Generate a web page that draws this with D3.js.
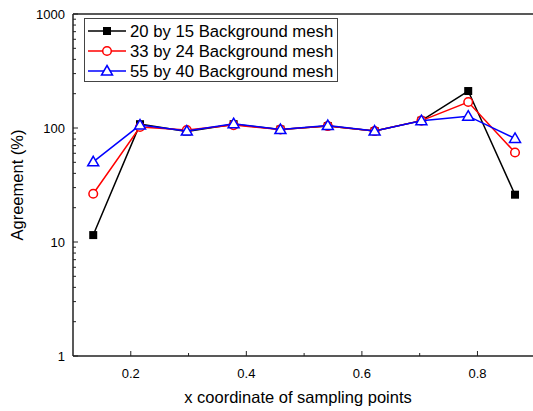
<!DOCTYPE html>
<html>
<head>
<meta charset="utf-8">
<script src="https://cdn.jsdelivr.net/npm/d3@7/dist/d3.min.js"></script>
<style>
  body { margin: 0; background: #fff; }
  svg { display: block; font-family: "Liberation Sans", Arial, sans-serif; }
</style>
</head>
<body>
<div id="chart"></div>
<script>
// sampling positions along x
var xPoints = [0.135, 0.216, 0.297, 0.378, 0.459, 0.541, 0.622, 0.703, 0.784, 0.865];

// agreement (%) for each background mesh
var mesh20x15 = [11.5, 108, 93, 108, 97, 104, 94, 116, 211, 26];
var mesh33x24 = [26.5, 102, 96, 106, 97, 104, 94, 116, 169, 61];
var mesh55x40 = [50.5, 106, 94, 109, 97, 105, 94, 116, 127, 81];

var seriesNames = ["20 by 15 Background mesh", "33 by 24 Background mesh", "55 by 40 Background mesh"];
var xTicks = [0.2, 0.4, 0.6, 0.8];
var yTicks = [1, 10, 100, 1000];

var width = 533, height = 411;
var plotLeft = 73, plotTop = 14, plotBottom = 356;

var svg = d3.select("#chart").append("svg").attr("width", width).attr("height", height);

var x = d3.scaleLinear().domain([0.1, 0.9]).range([plotLeft, plotLeft + 0.8 * 577.8]);
var y = d3.scaleLog().domain([1, 1000]).range([plotBottom, plotTop]);

// minor ticks on the log axis (2..9 in each decade)
var yMinor = [];
for (var d = 1; d < 1000; d *= 10) {
    for (var k = 2; k <= 9; k++) yMinor.push(d * k);
}

// frame: top line
svg.append("line").attr("x1", plotLeft).attr("x2", width).attr("y1", plotTop).attr("y2", plotTop)
    .attr("stroke", "#222").attr("stroke-width", 1.5);

// y axis
var gy = svg.append("g").attr("transform", "translate(" + plotLeft + ",0)");
gy.append("line").attr("x1", 0).attr("x2", 0).attr("y1", plotTop).attr("y2", plotBottom)
    .attr("stroke", "#222").attr("stroke-width", 1.5);
gy.selectAll(".minor").data(yMinor).enter().append("line")
    .attr("x1", 0).attr("x2", 3).attr("y1", d => y(d)).attr("y2", d => y(d))
    .attr("stroke", "#222").attr("stroke-width", 1);
gy.selectAll(".major").data(yTicks).enter().append("line")
    .attr("x1", 0).attr("x2", 5).attr("y1", d => y(d)).attr("y2", d => y(d))
    .attr("stroke", "#222").attr("stroke-width", 1);
gy.selectAll(".lbl").data(yTicks).enter().append("text")
    .attr("x", -8).attr("y", d => y(d)).attr("dy", "0.35em")
    .attr("text-anchor", "end").style("font-size", "13px")
    .text(d => d);

// x axis
var gx = svg.append("g").attr("transform", "translate(0," + plotBottom + ")");
gx.append("line").attr("x1", plotLeft).attr("x2", width).attr("y1", 0).attr("y2", 0)
    .attr("stroke", "#222").attr("stroke-width", 1.5);
gx.selectAll(".minor").data([0.3, 0.5, 0.7]).enter().append("line")
    .attr("x1", d => x(d)).attr("x2", d => x(d)).attr("y1", 0).attr("y2", -3)
    .attr("stroke", "#222").attr("stroke-width", 1);
gx.selectAll(".major").data(xTicks).enter().append("line")
    .attr("x1", d => x(d)).attr("x2", d => x(d)).attr("y1", 0).attr("y2", -5)
    .attr("stroke", "#222").attr("stroke-width", 1);
gx.selectAll(".lbl").data(xTicks).enter().append("text")
    .attr("x", d => x(d)).attr("y", 22)
    .attr("text-anchor", "middle").style("font-size", "13px")
    .text(d => d.toFixed(1));

// axis titles
svg.append("text").attr("x", 298).attr("y", 403).attr("text-anchor", "middle")
    .style("font-size", "16.5px").text("x coordinate of sampling points");
svg.append("text").attr("transform", "translate(23," + ((plotTop + plotBottom) / 2) + ") rotate(-90)")
    .attr("text-anchor", "middle").style("font-size", "16.5px").text("Agreement (%)");

var series = [
    { name: seriesNames[0], values: mesh20x15, color: "#000000", marker: "square" },
    { name: seriesNames[1], values: mesh33x24, color: "#ff0000", marker: "circle" },
    { name: seriesNames[2], values: mesh55x40, color: "#0000ff", marker: "triangle" }
];

var line = d3.line().x(d => x(d[0])).y(d => y(d[1]));

function drawMarker(g, type, color) {
    if (type === "square") {
        g.append("rect").attr("x", -4).attr("y", -4).attr("width", 8).attr("height", 8)
            .attr("fill", color);
    } else if (type === "circle") {
        g.append("circle").attr("r", 4.3).attr("fill", "#fff")
            .attr("stroke", color).attr("stroke-width", 1.5);
    } else {
        g.append("path").attr("d", "M0,-5.5L5.5,4L-5.5,4Z").attr("fill", "#fff")
            .attr("stroke", color).attr("stroke-width", 1.5);
    }
}

series.forEach(function(s) {
    var pts = xPoints.map((xv, i) => [xv, s.values[i]]);
    svg.append("path").datum(pts).attr("d", line)
        .attr("fill", "none").attr("stroke", s.color).attr("stroke-width", 1.5);
    pts.forEach(function(p) {
        var g = svg.append("g").attr("transform", "translate(" + x(p[0]) + "," + y(p[1]) + ")");
        drawMarker(g, s.marker, s.color);
    });
});

// legend
var legend = svg.append("g").attr("transform", "translate(84,18)");
legend.append("rect").attr("x", 0.5).attr("y", 0.5).attr("width", 253).attr("height", 63)
    .attr("fill", "#fff").attr("stroke", "#444").attr("stroke-width", 1);
series.forEach(function(s, i) {
    var ly = 13 + i * 20;
    legend.append("line").attr("x1", 4).attr("x2", 42).attr("y1", ly).attr("y2", ly)
        .attr("stroke", s.color).attr("stroke-width", 1.5);
    var g = legend.append("g").attr("transform", "translate(23," + ly + ")");
    drawMarker(g, s.marker, s.color);
    legend.append("text").attr("x", 46).attr("y", ly).attr("dy", "0.36em")
        .style("font-size", "16.7px").text(s.name);
});
</script>
</body>
</html>
